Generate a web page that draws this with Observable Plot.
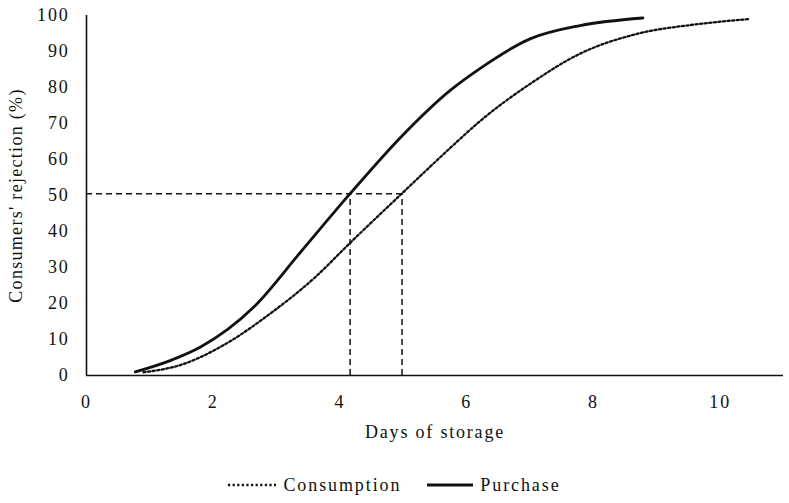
<!DOCTYPE html>
<html>
<head>
<meta charset="utf-8">
<script src="https://cdn.jsdelivr.net/npm/d3@7"></script>
<script src="https://cdn.jsdelivr.net/npm/@observablehq/plot@0.6"></script>
<style>
  html, body { margin: 0; padding: 0; background: #fff; }
  #wrap { width: 789px; height: 503px; position: relative; font-family: "Liberation Serif", "Times New Roman", serif; }
  #chart svg text { letter-spacing: 1.8px; }
  #chart svg g[aria-label="y-axis label"] text { letter-spacing: 1.3px; }
  #legend { position: absolute; left: 0; top: 470px; width: 789px; height: 30px; display: flex; justify-content: center; align-items: center; font-size: 18px; letter-spacing: 1.9px; color: #111; }
  .item { display: flex; align-items: center; }
  .item svg { margin-right: 7px; }
</style>
</head>
<body>
<div id="wrap">
  <div id="chart"></div>
  <div id="legend"></div>
</div>
<script>
// ---- data ----
const purchaseX = [0.77, 1.3, 1.8, 2.64, 3.38, 4.16, 4.96, 5.74, 6.22, 7.0, 7.79, 8.78];
const purchaseY = [1.0, 4.0, 7.9, 19.0, 34.3, 50.5, 66.2, 79.2, 85.4, 93.5, 97.2, 99.3];

const consumptionX = [0.9, 1.5, 2.11, 2.9, 3.59, 4.17, 4.98, 5.74, 6.22, 7.0, 7.79, 8.69, 9.6, 10.45];
const consumptionY = [0.9, 3.0, 7.9, 17.2, 27.0, 37.0, 50.6, 63.2, 70.8, 81.0, 89.4, 94.9, 97.5, 99.0];

const refDays = [4.16, 4.98];   // days at 50% rejection (purchase, consumption)
const refLevel = 50.5;

const xTicks = [0, 2, 4, 6, 8, 10];
const yTicks = [0, 10, 20, 30, 40, 50, 60, 70, 80, 90, 100];
const seriesNames = ["Consumption", "Purchase"];
const xTitle = "Days of storage";
const yTitle = "Consumers' rejection (%)";

const purchase = purchaseX.map((x, i) => ({x, y: purchaseY[i]}));
const consumption = consumptionX.map((x, i) => ({x, y: consumptionY[i]}));

const chart = Plot.plot({
  width: 789,
  height: 460,
  marginLeft: 86,
  marginRight: 6,
  marginTop: 15,
  marginBottom: 85,
  style: { fontFamily: "Liberation Serif, Times New Roman, serif", fontSize: "18px", color: "#111", background: "#fff" },
  x: { domain: [0, 11] },
  y: { domain: [0, 100] },
  marks: [
    Plot.axisX({ ticks: xTicks, tickSize: 0, tickPadding: 20, label: xTitle, labelAnchor: "center", labelArrow: "none", labelOffset: 62, fontSize: 18 }),
    Plot.axisY({ ticks: yTicks, tickSize: 0, tickPadding: 17, label: yTitle, labelAnchor: "center", labelArrow: "none", labelOffset: 77, fontSize: 18 }),
    Plot.ruleY([refLevel], { x1: 0, x2: d3.max(refDays), stroke: "#111", strokeWidth: 1.5, strokeDasharray: "6 4" }),
    Plot.ruleX(refDays, { y1: 0, y2: refLevel, stroke: "#111", strokeWidth: 1.5, strokeDasharray: "6 4" }),
    Plot.line(consumption, { x: "x", y: "y", curve: "monotone-x", stroke: "#111", strokeWidth: 2.3, strokeDasharray: "2.2 2.4" }),
    Plot.line(purchase, { x: "x", y: "y", curve: "monotone-x", stroke: "#111", strokeWidth: 2.8 }),
    Plot.ruleY([0], { stroke: "#111", strokeWidth: 1.6 }),
    Plot.ruleX([0], { stroke: "#111", strokeWidth: 1.6 })
  ]
});
document.getElementById("chart").appendChild(chart);

// ---- legend ----
const legend = document.getElementById("legend");
const dashes = ["2.2 2.4", null];
seriesNames.forEach((name, i) => {
  const item = document.createElement("div");
  item.className = "item";
  if (i > 0) item.style.marginLeft = "26px";
  const w = i === 0 ? 48 : 46;
  const sw = i === 0 ? 2.3 : 2.8;
  item.innerHTML = `<svg width="${w}" height="10"><line x1="0" x2="${w}" y1="5" y2="5" stroke="#111" stroke-width="${sw}" ${dashes[i] ? `stroke-dasharray="${dashes[i]}"` : ""}/></svg><span>${name}</span>`;
  legend.appendChild(item);
});
</script>
</body>
</html>
